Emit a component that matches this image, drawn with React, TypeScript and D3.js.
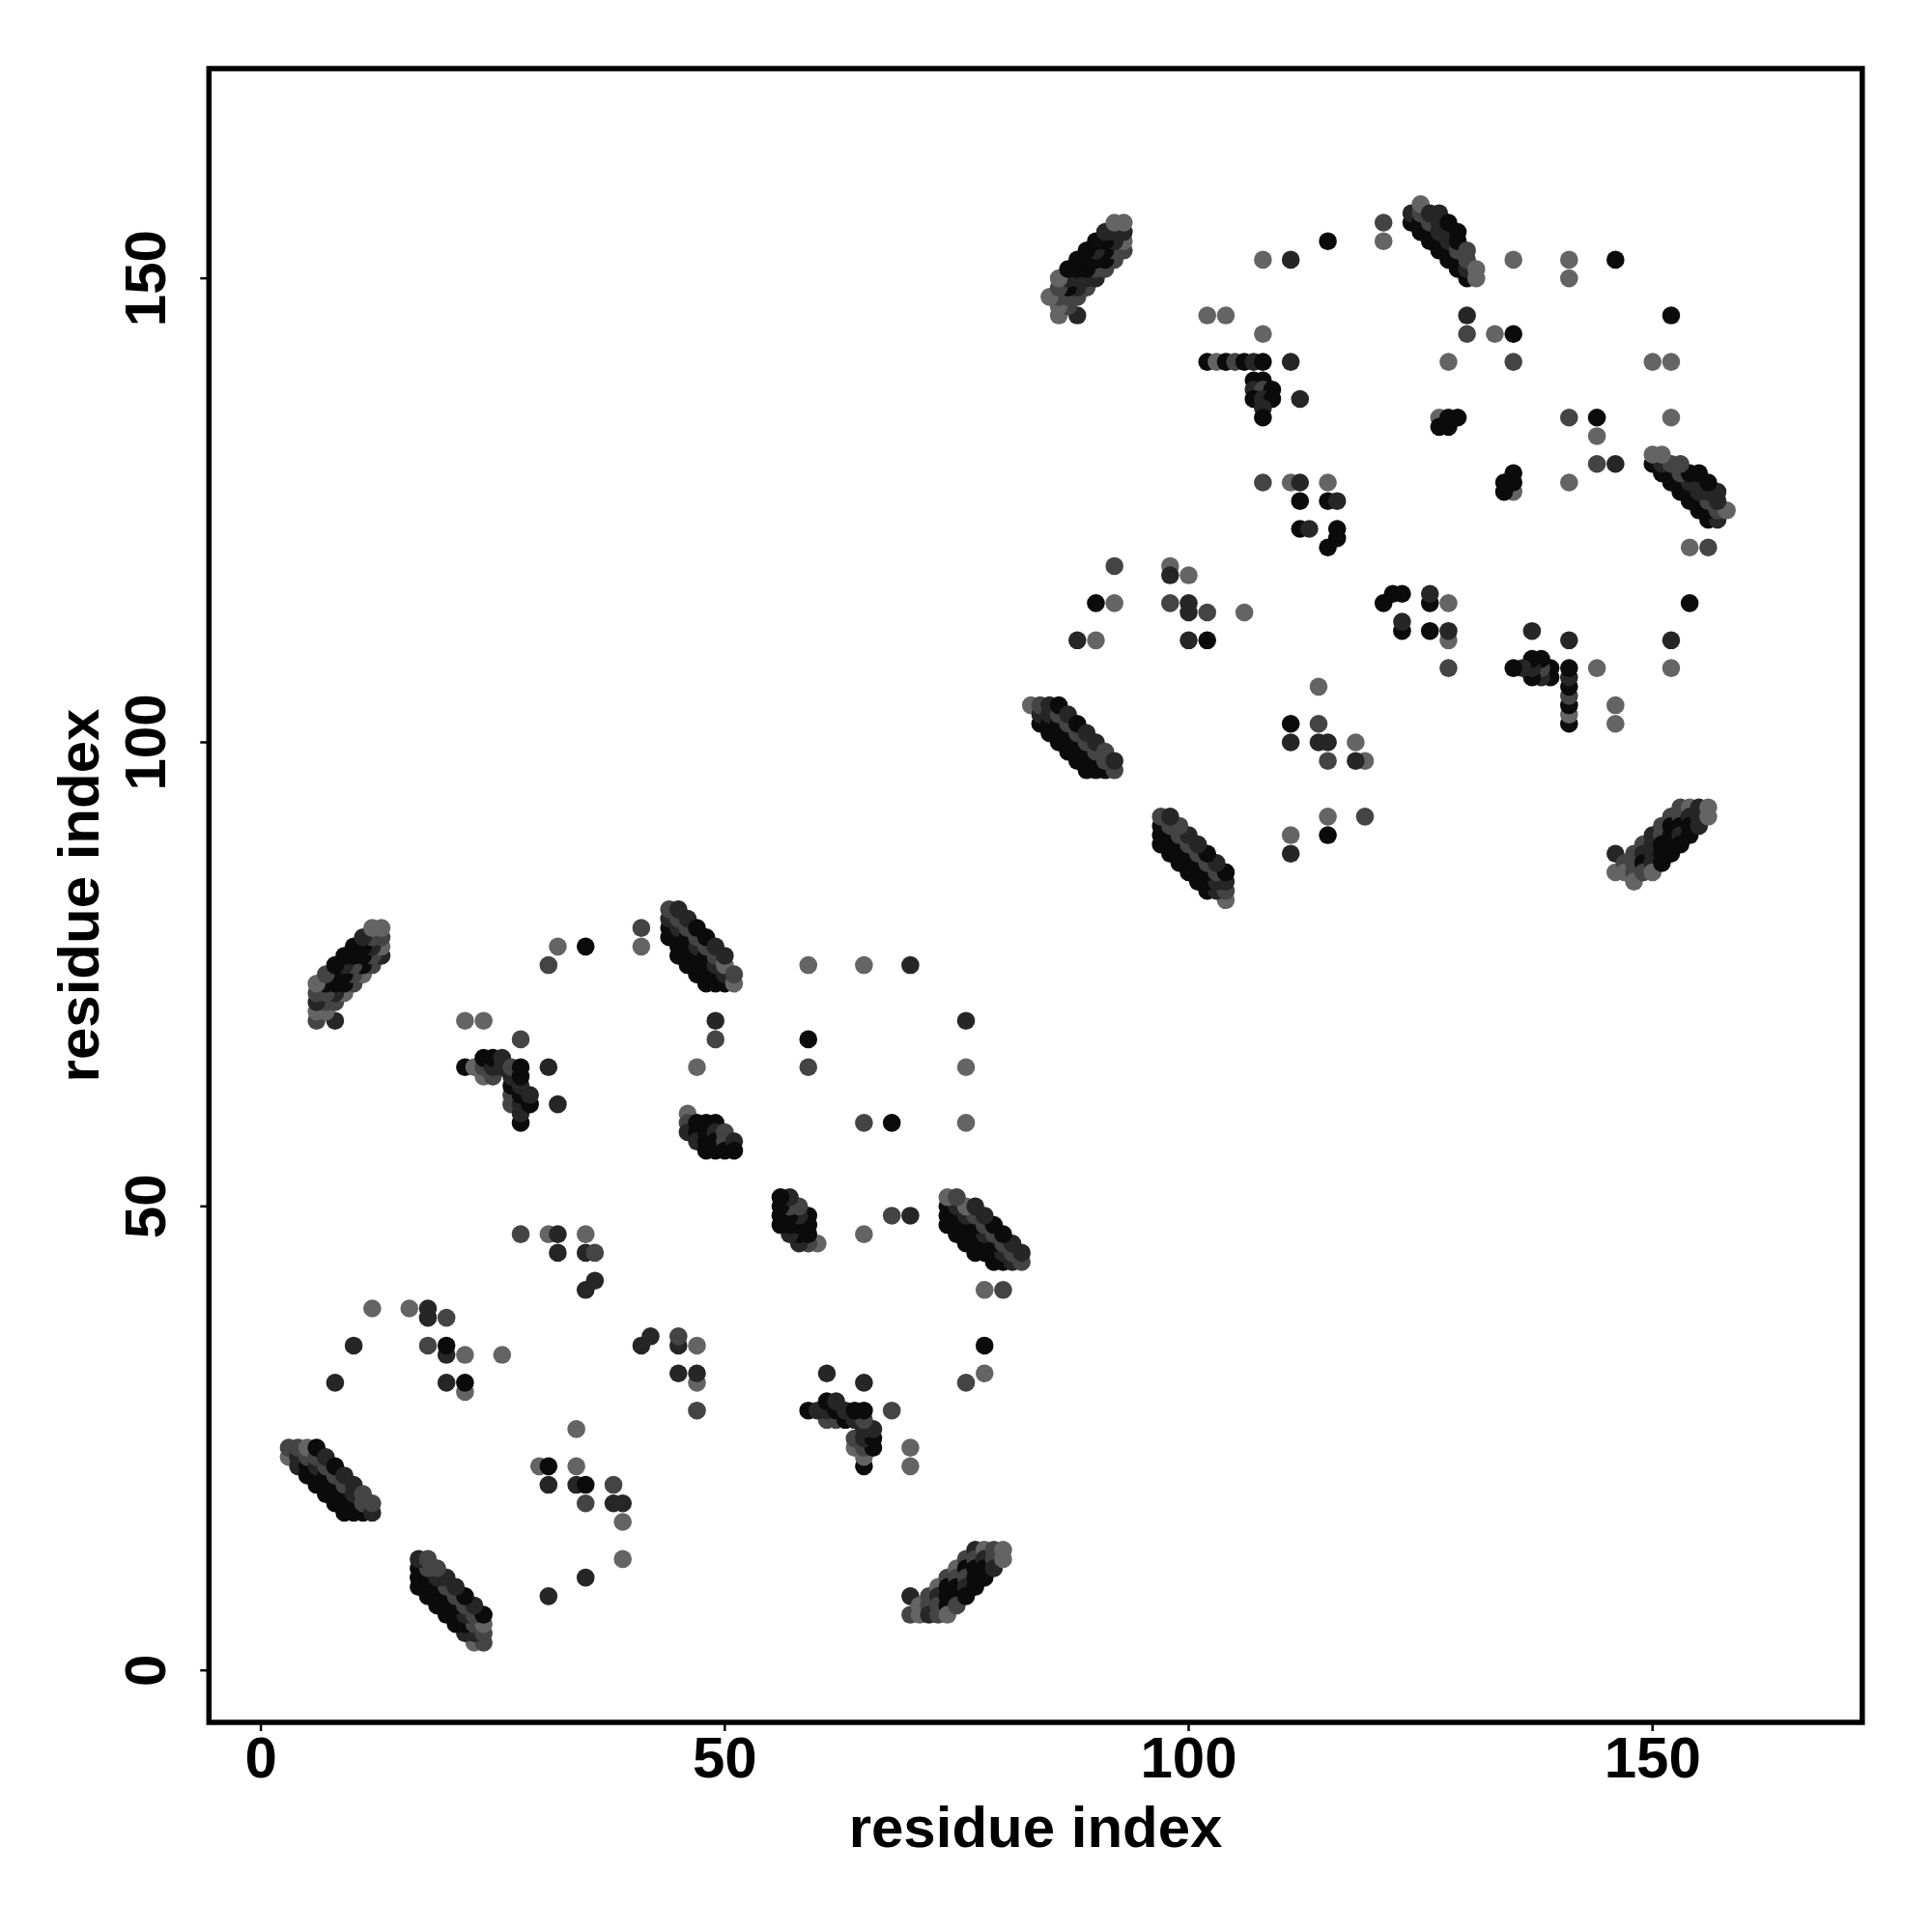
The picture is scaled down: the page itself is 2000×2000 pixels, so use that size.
import React from 'react';
import * as d3 from 'd3';

type Contact = [number, number, number]; // [residue i, residue j, shade level]

// Contacts of a symmetric contact map: upper triangle (i < j); the map is mirrored on draw.
// Domain 1: helix/strand pairings
const pairB: Contact[] = [
  [3, 23, 3], [4, 22, 1], [5, 21, 0], [6, 20, 0], [7, 19, 0], [8, 18, 0], [9, 17, 0],
  [3, 24, 2], [4, 23, 1], [5, 22, 0], [6, 21, 0], [7, 20, 0], [8, 19, 0], [9, 18, 0], [10, 17, 0],
  [4, 24, 2], [5, 23, 2], [6, 22, 1], [7, 21, 0], [8, 20, 0], [9, 19, 0], [10, 18, 0], [11, 17, 0],
  [5, 24, 3], [6, 23, 2], [7, 22, 2], [8, 21, 2], [9, 20, 2], [10, 19, 1], [11, 18, 2], [12, 17, 1],
  [6, 24, 0], [7, 23, 1], [8, 22, 0], [9, 21, 1], [10, 20, 1], [11, 19, 2], [12, 18, 2],
];

const pairA: Contact[] = [
  [8, 70, 1],
  [6, 70, 2], [7, 71, 3], [8, 72, 2], [9, 73, 3], [10, 74, 2], [11, 75, 3], [12, 76, 2], [13, 77, 1],
  [6, 71, 3], [7, 72, 2], [8, 73, 1], [9, 74, 0], [10, 75, 2], [11, 76, 0], [12, 77, 2], [13, 78, 3],
  [6, 72, 1], [7, 73, 2], [8, 74, 0], [9, 75, 0], [10, 76, 2], [11, 77, 0], [12, 78, 1], [13, 79, 2],
  [6, 73, 2], [7, 74, 0], [8, 75, 0], [9, 76, 1], [10, 77, 0], [11, 78, 0], [12, 79, 2], [13, 80, 3],
  [6, 74, 3], [7, 75, 2], [8, 76, 0], [9, 77, 0], [10, 78, 0], [11, 79, 1], [12, 80, 3],
];

const pairC: Contact[] = [
  [44, 79, 0], [44, 80, 0], [44, 81, 1], [44, 82, 2],
  [45, 77, 0], [45, 78, 0], [45, 79, 0], [45, 80, 1], [45, 81, 2], [45, 82, 1],
  [46, 76, 0], [46, 77, 0], [46, 78, 0], [46, 79, 0], [46, 80, 2], [46, 81, 1],
  [47, 75, 0], [47, 76, 0], [47, 77, 0], [47, 78, 1], [47, 79, 2], [47, 80, 0],
  [48, 74, 0], [48, 75, 0], [48, 76, 0], [48, 77, 0], [48, 78, 2], [48, 79, 0],
  [49, 74, 0], [49, 75, 0], [49, 76, 1], [49, 77, 2], [49, 78, 1],
  [50, 74, 0], [50, 75, 1], [50, 76, 3], [50, 77, 1],
  [51, 74, 3], [51, 75, 2],
];

const clusterD: Contact[] = [
  [46, 60, 3], [46, 59, 2], [46, 58, 1],
  [47, 59, 0], [47, 58, 0], [47, 57, 1],
  [48, 59, 0], [48, 58, 0], [48, 57, 0], [48, 56, 0],
  [49, 59, 0], [49, 58, 1], [49, 57, 0], [49, 56, 0],
  [50, 58, 2], [50, 57, 2], [50, 56, 0],
  [51, 57, 1], [51, 56, 0],
];

const clusterL: Contact[] = [
  [22, 65, 0], [23, 65, 3], [24, 64, 3], [24, 65, 2], [24, 66, 0], [25, 64, 2], [25, 65, 1], [25, 66, 0],
  [26, 65, 1], [26, 66, 1], [27, 61, 2], [27, 62, 2], [27, 63, 0], [27, 64, 1], [27, 65, 2],
  [28, 59, 0], [28, 60, 1], [28, 61, 1], [28, 62, 0], [28, 63, 1], [28, 64, 0], [28, 65, 0],
  [29, 61, 0], [29, 62, 1],
];

const scattered1: Contact[] = [
  [8, 31, 1], [10, 35, 1], [12, 39, 3], [16, 39, 3], [18, 38, 1], [18, 39, 1], [20, 38, 2],
  [18, 35, 2], [20, 34, 1], [20, 35, 0], [22, 34, 3], [26, 34, 3], [20, 31, 1], [22, 30, 3], [22, 31, 0],
  [28, 47, 2], [31, 47, 3], [32, 45, 1], [32, 47, 1], [35, 47, 3], [35, 45, 1], [36, 45, 2],
  [35, 41, 1], [36, 42, 1],
  [22, 70, 3], [24, 70, 3], [28, 68, 2], [31, 76, 2], [32, 78, 3], [35, 78, 0], [41, 80, 2], [41, 78, 3],
  [59, 76, 3], [65, 76, 3], [70, 76, 1], [49, 70, 1], [49, 68, 2], [47, 65, 3], [59, 68, 0], [59, 65, 2],
  [31, 65, 1], [32, 61, 1],
];

// Domain 2
const pairF: Contact[] = [
  [88, 146, 1],
  [86, 146, 3], [87, 147, 2], [88, 148, 2], [89, 149, 2], [90, 150, 1], [91, 151, 2], [92, 152, 2], [93, 153, 2],
  [86, 147, 3], [87, 148, 2], [88, 149, 1], [89, 150, 1], [90, 151, 2], [91, 152, 0], [92, 153, 2], [93, 154, 3],
  [86, 148, 2], [87, 149, 0], [88, 150, 1], [89, 151, 0], [90, 152, 0], [91, 153, 0], [92, 154, 1], [93, 155, 1],
  [85, 148, 3], [86, 149, 2], [87, 150, 1], [88, 151, 0], [89, 152, 0], [90, 153, 1], [91, 154, 0], [92, 155, 1], [93, 156, 3],
  [86, 150, 3], [87, 151, 0], [88, 152, 0], [89, 153, 0], [90, 154, 0], [91, 155, 1], [92, 156, 3],
];

const pairG: Contact[] = [
  [124, 156, 0], [125, 155, 0], [126, 154, 0], [127, 153, 0], [128, 152, 0], [129, 151, 0], [130, 150, 0],
  [124, 157, 1], [125, 156, 0], [126, 155, 0], [127, 154, 0], [128, 153, 0], [129, 152, 0], [130, 151, 1], [131, 150, 3],
  [125, 157, 2], [126, 156, 2], [127, 155, 1], [128, 154, 1], [129, 153, 2], [130, 152, 2], [131, 151, 3],
  [125, 158, 3], [126, 157, 1], [127, 156, 1], [128, 155, 1], [129, 154, 0], [130, 153, 2],
  [127, 157, 1], [128, 156, 0], [129, 155, 0],
];

const pairI: Contact[] = [
  [84, 102, 0], [85, 101, 0], [86, 100, 0], [87, 99, 0], [88, 98, 0], [89, 97, 0],
  [83, 104, 3], [84, 103, 1], [85, 102, 0], [86, 101, 0], [87, 100, 0], [88, 99, 0], [89, 98, 0], [90, 97, 0],
  [84, 104, 2], [85, 103, 1], [86, 102, 0], [87, 101, 0], [88, 100, 0], [89, 99, 0], [90, 98, 0], [91, 97, 0],
  [85, 104, 1], [86, 103, 2], [87, 102, 2], [88, 101, 2], [89, 100, 2], [90, 99, 2], [91, 98, 2], [92, 97, 2],
  [86, 104, 0], [87, 103, 1], [88, 102, 0], [89, 101, 1], [90, 100, 1], [91, 99, 2], [92, 98, 1],
];

const scattered2: Contact[] = [
  [108, 152, 3], [111, 152, 1], [115, 154, 0], [121, 156, 2], [121, 154, 3],
  [102, 146, 3], [104, 146, 3], [108, 144, 3],
  [102, 141, 0], [103, 141, 3], [104, 141, 0], [105, 141, 2], [106, 141, 0], [107, 141, 1], [108, 141, 0], [111, 141, 1],
  [107, 139, 0], [108, 139, 0], [107, 138, 1], [108, 138, 2], [109, 138, 0], [107, 137, 0], [108, 137, 1], [109, 137, 0],
  [108, 136, 1], [108, 135, 0], [112, 137, 1],
  [108, 128, 2], [111, 128, 3], [112, 128, 1], [115, 128, 3], [112, 126, 0], [115, 126, 0], [116, 126, 1],
  [112, 123, 0], [113, 123, 1], [116, 123, 0], [116, 122, 0], [115, 121, 0],
  [135, 152, 3], [141, 152, 3], [141, 150, 3], [146, 152, 0], [130, 146, 1], [130, 144, 2], [133, 144, 3], [135, 144, 0],
  [128, 141, 3], [135, 141, 2], [127, 135, 3], [128, 135, 0], [129, 135, 0], [127, 134, 0], [128, 134, 0],
  [92, 119, 2], [98, 119, 3], [98, 118, 1], [100, 118, 3], [90, 115, 0], [92, 115, 3], [98, 115, 2], [100, 115, 1],
  [100, 114, 1], [102, 114, 2], [106, 114, 3], [88, 111, 1], [90, 111, 3], [100, 111, 1], [102, 111, 0],
];

const SHADES = ['#0b0b0b', '#262626', '#444444', '#646464'];
const TICKS = [0, 50, 100, 150];
const DOMAIN: [number, number] = [-5.6, 172.6];
const X_TITLE = 'residue index';
const Y_TITLE = 'residue index';

export default function App() {
  const left = 216.3, right = 1927.8, top = 71, bottom = 1783;
  const x = d3.scaleLinear().domain(DOMAIN).range([left, right]);
  const y = d3.scaleLinear().domain(DOMAIN).range([bottom, top]);
  const upper: Contact[] = [
    ...pairB, ...pairA, ...pairC, ...clusterD, ...clusterL, ...scattered1,
    ...pairF, ...pairG, ...pairI, ...scattered2,
  ];
  const all: Contact[] = upper.flatMap(([i, j, s]) => [[i, j, s] as Contact, [j, i, s] as Contact]);
  const font = "'Liberation Sans', Arial, Helvetica, sans-serif";
  return (
    <svg width={2000} height={2000} style={{ position: 'absolute', left: 0, top: 0 }}
      fontFamily={font} fontWeight="bold">
      <rect x={0} y={0} width={2000} height={2000} fill="#ffffff" />
      <g>
        {all.map(([i, j, s], k) => (
          <circle key={k} cx={x(i)} cy={y(j)} r={9.3} fill={SHADES[s]} />
        ))}
      </g>
      <rect x={left} y={top} width={right - left} height={bottom - top} fill="none" stroke="#000" strokeWidth={5.5} />
      {TICKS.map((t) => (
        <g key={'x' + t}>
          <line x1={x(t)} x2={x(t)} y1={bottom} y2={bottom + 9} stroke="#000" strokeWidth={2.5} />
          <text x={x(t)} y={1840} textAnchor="middle" fontSize={60}>{t}</text>
        </g>
      ))}
      {TICKS.map((t) => (
        <g key={'y' + t}>
          <line x1={left} x2={left - 9} y1={y(t)} y2={y(t)} stroke="#000" strokeWidth={2.5} />
          <text transform={`translate(170.5,${y(t)}) rotate(-90)`} textAnchor="middle" fontSize={60}>{t}</text>
        </g>
      ))}
      <text x={(left + right) / 2} y={1911.5} textAnchor="middle" fontSize={60}>{X_TITLE}</text>
      <text transform={`translate(102,${(top + bottom) / 2}) rotate(-90)`} textAnchor="middle" fontSize={60}>{Y_TITLE}</text>
    </svg>
  );
}
